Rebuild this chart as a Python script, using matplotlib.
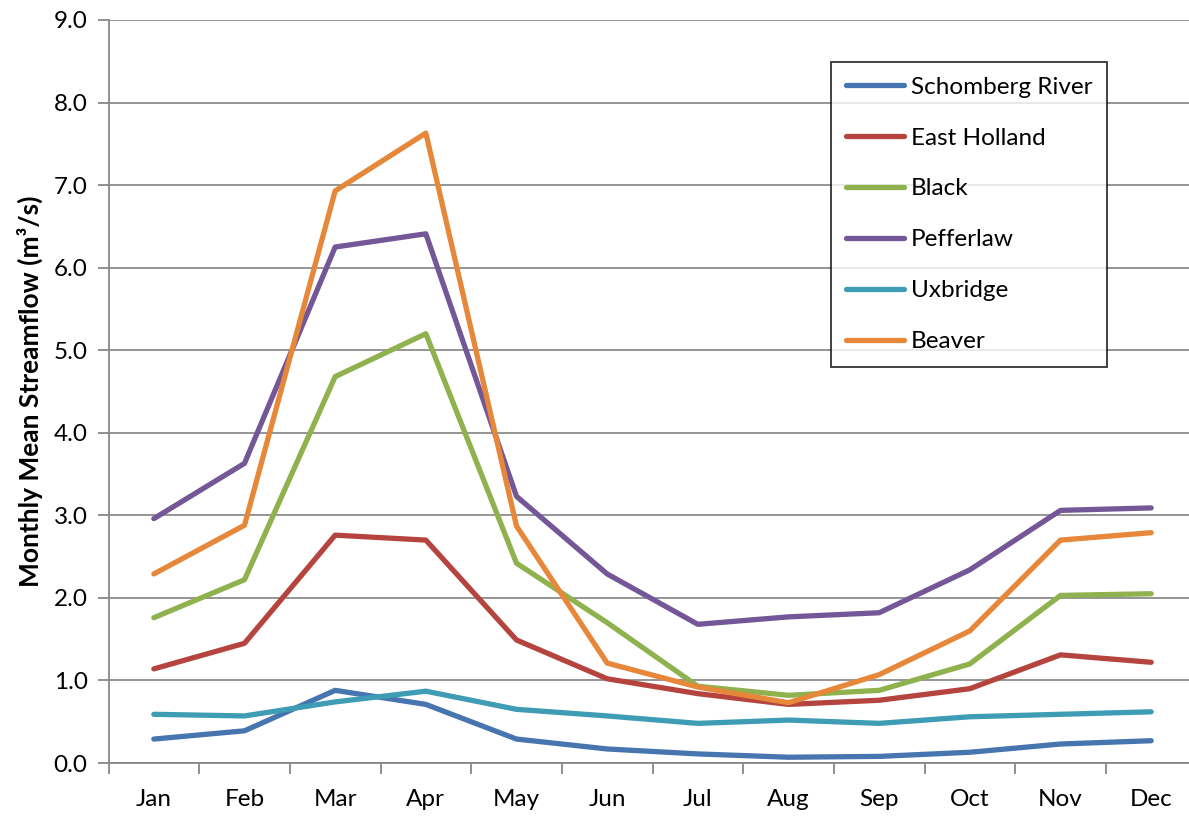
import matplotlib
matplotlib.use("Agg")
import matplotlib.pyplot as plt
import numpy as np

months = ["Jan", "Feb", "Mar", "Apr", "May", "Jun", "Jul", "Aug", "Sep", "Oct", "Nov", "Dec"]
schomberg = [0.29, 0.39, 0.88, 0.71, 0.29, 0.17, 0.11, 0.07, 0.08, 0.13, 0.23, 0.27]
east_holland = [1.14, 1.45, 2.76, 2.70, 1.49, 1.02, 0.84, 0.71, 0.76, 0.90, 1.31, 1.22]
black = [1.76, 2.22, 4.68, 5.20, 2.42, 1.70, 0.93, 0.82, 0.88, 1.20, 2.03, 2.05]
pefferlaw = [2.96, 3.63, 6.25, 6.41, 3.23, 2.29, 1.68, 1.77, 1.82, 2.34, 3.06, 3.09]
uxbridge = [0.59, 0.57, 0.74, 0.87, 0.65, 0.57, 0.48, 0.52, 0.48, 0.56, 0.59, 0.62]
beaver = [2.29, 2.88, 6.93, 7.63, 2.87, 1.21, 0.92, 0.73, 1.07, 1.60, 2.70, 2.79]

series = [
    ("Schomberg River", schomberg, "#4675B0"),
    ("East Holland", east_holland, "#B5443F"),
    ("Black", black, "#8FB14E"),
    ("Pefferlaw", pefferlaw, "#735797"),
    ("Uxbridge", uxbridge, "#3E9CB5"),
    ("Beaver", beaver, "#E6873A"),
]

plt.rcParams['font.family'] = ['Lato', 'DejaVu Sans']
fig = plt.figure(figsize=(11.89, 8.16), dpi=100)
ax = fig.add_axes([108.5/1189, 1-763/816, 1088/1189, 743/816])

x = np.arange(len(months))
for name, vals, col in series:
    ax.plot(x, vals, color=col, lw=3.8, label=name, solid_capstyle='round', solid_joinstyle='round')

ax.set_xlim(-0.5, 11.5)
ax.set_ylim(0, 9)
yt = np.arange(0, 9.01, 1.0)
ax.set_yticks(yt)
ax.set_yticklabels([f"{v:.1f}" for v in yt])
ax.set_xticks(x)
ax.set_xticklabels(months)
ax.set_xticks(np.arange(-0.5, 11.6, 1.0), minor=True)
ax.tick_params(axis='x', which='major', length=0, pad=19, labelsize=17.5)
ax.tick_params(axis='x', which='minor', length=8, width=1.3, color='#888888')
ax.tick_params(axis='y', length=8, width=1.3, color='#888888', labelsize=17.5, pad=7)
ax.grid(axis='y', color='#8C8C8C', lw=1.3)
ax.set_axisbelow(True)
for s in ['top', 'right']:
    ax.spines[s].set_visible(False)
for s in ['left', 'bottom']:
    ax.spines[s].set_color('#888888')
    ax.spines[s].set_linewidth(1.3)

ax.set_ylabel("Monthly Mean Streamflow (m³/s)", fontsize=19, fontweight='bold', labelpad=8)

leg = ax.legend(loc='upper left', bbox_to_anchor=((831-108.5)/1088, (763-62)/743),
                frameon=True, fancybox=False, fontsize=17.5, handlelength=2.4,
                handletextpad=0.3, labelspacing=1.23, borderpad=0.6, borderaxespad=0)
leg.get_frame().set_edgecolor('black')
leg.get_frame().set_linewidth(1.3)

fig.savefig("out.png", dpi=100)
